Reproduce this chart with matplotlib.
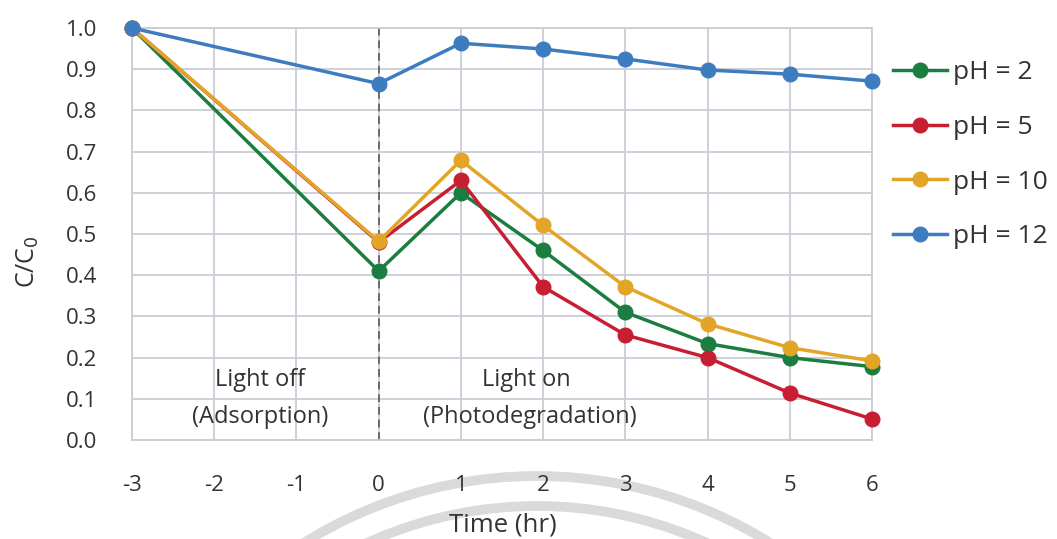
import matplotlib.pyplot as plt
from matplotlib.patches import Circle

plt.rcParams["font.family"] = ["Open Sans", "DejaVu Sans"]
plt.rcParams["axes.unicode_minus"] = False

time_hr = [-3, 0, 1, 2, 3, 4, 5, 6]
ph_labels = ["pH = 2", "pH = 5", "pH = 10", "pH = 12"]
ph2 = [1.0, 0.41, 0.60, 0.46, 0.31, 0.234, 0.20, 0.178]
ph5 = [1.0, 0.48, 0.63, 0.372, 0.255, 0.20, 0.114, 0.051]
ph10 = [1.0, 0.482, 0.679, 0.521, 0.372, 0.282, 0.224, 0.192]
ph12 = [1.0, 0.865, 0.963, 0.949, 0.925, 0.898, 0.888, 0.871]
x_ticks = [-3, -2, -1, 0, 1, 2, 3, 4, 5, 6]
y_ticks = [0.0, 0.1, 0.2, 0.3, 0.4, 0.5, 0.6, 0.7, 0.8, 0.9, 1.0]

colors = ["#1b7d40", "#c81e32", "#e2a527", "#3e7cc0"]
grid_color = "#c9cdd4"
text_color = "#333333"


def draw_watermark(fig):
    # faint rings printed behind the chart
    bg = fig.add_axes([0, 0, 1, 1], zorder=-5)
    bg.set_xlim(0, 1057)
    bg.set_ylim(539, 0)
    bg.axis("off")
    for r in (440, 410):
        bg.add_patch(Circle((537, 916), r, fill=False, lw=7,
                            ec="#dadada"))


def main():
    fig = plt.figure(figsize=(10.57, 5.39), dpi=100)
    draw_watermark(fig)
    ax = fig.add_axes([132 / 1057, 1 - 440 / 539, 740 / 1057, 412 / 539])
    ax.patch.set_alpha(0)

    series = [ph2, ph5, ph10, ph12]
    for values, label, color in zip(series, ph_labels, colors):
        ax.plot(time_hr, values, color=color, lw=2.5, marker="o",
                markersize=10.5, label=label, clip_on=False, zorder=3)

    ax.axvline(0, color="#6a6a6a", lw=1.4, ls=(0, (4, 2.5)), zorder=2)

    ax.set_xlim(-3, 6)
    ax.set_ylim(0, 1.0)
    ax.set_xticks(x_ticks)
    ax.set_yticks(y_ticks)
    ax.set_yticklabels([f"{v:.1f}" for v in y_ticks])
    ax.tick_params(axis="both", length=0, labelsize=16, colors=text_color)
    ax.tick_params(axis="x", pad=25)
    ax.tick_params(axis="y", pad=25)
    ax.grid(True, color=grid_color, lw=1.3, zorder=0)
    for spine in ax.spines.values():
        spine.set_color(grid_color)
        spine.set_linewidth(1.3)

    ax.text(-1.44, 0.146, "Light off", ha="center", va="center",
            fontsize=17, color=text_color)
    ax.text(-1.44, 0.057, "(Adsorption)", ha="center", va="center",
            fontsize=17, color=text_color)
    ax.text(1.79, 0.146, "Light on", ha="center", va="center",
            fontsize=17, color=text_color)
    ax.text(1.84, 0.055, "(Photodegradation)", ha="center", va="center",
            fontsize=17, color=text_color)

    fig.text(503 / 1057, 2 / 539, "Time (hr)", ha="center",
             va="bottom", fontsize=18.5, color=text_color)
    fig.text(28 / 1057, 1 - 262 / 539, "C/C$_0$", ha="center", va="center",
             rotation=90, fontsize=18, color=text_color)

    ax.legend(loc="upper left", bbox_to_anchor=(0.996, 0.979), frameon=False,
              fontsize=19, handlelength=2.05, handletextpad=0.25,
              labelspacing=1.12, labelcolor=text_color)

    fig.savefig("out.png", dpi=100)


if __name__ == "__main__":
    main()
